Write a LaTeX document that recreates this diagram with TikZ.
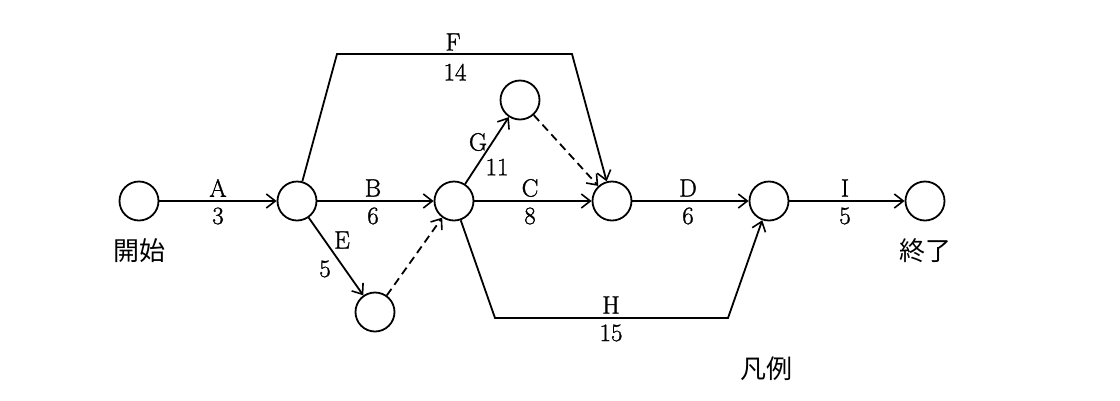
\documentclass[tikz,border=0pt]{standalone}
\usepackage{fontspec}
\newfontfamily\jp{Noto Sans CJK JP}
\newfontfamily\lblfont{Latin Modern Roman}[FakeBold=1.2]
\usetikzlibrary{arrows.meta}
\begin{document}
\begin{tikzpicture}[x=1pt,y=-1pt,
  ev/.style={circle,draw,line width=1.8pt,minimum size=39pt,inner sep=0pt},
  act/.style={line width=1.8pt,-{Straight Barb[length=9pt,width=14pt,line width=1.6pt]}},
  dum/.style={act,dash pattern=on 8pt off 5pt},
  lbl/.style={font=\lblfont\fontsize{25}{28}\selectfont,inner sep=0pt},
  jlbl/.style={font=\jp\fontsize{26}{28}\selectfont,inner sep=0pt}]
\useasboundingbox[fill=white] (0,0) rectangle (1120,400);
% events
\node[ev] (s)  at (139,201) {};
\node[ev] (n1) at (297,201) {};
\node[ev] (n2) at (375,312) {};
\node[ev] (n3) at (454,201) {};
\node[ev] (n4) at (520,100) {};
\node[ev] (n5) at (612,201) {};
\node[ev] (n6) at (769,201) {};
\node[ev] (e)  at (925,201) {};
% corner points
\coordinate (fL) at (337,54);
\coordinate (fR) at (572,54);
\coordinate (hL) at (495,318);
\coordinate (hR) at (728,318);
% activities
\draw[act] (s) -- (n1);
\draw[act] (n1) -- (n3);
\draw[act] (n1) -- (n2);
\draw[dum] (n2) -- (n3);
\draw[act] (n3) -- (n4);
\draw[dum] (n4) -- (n5);
\draw[act] (n3) -- (n5);
\draw[act] (n5) -- (n6);
\draw[act] (n6) -- (e);
\draw[act] (n1) -- (fL) -- (fR) -- (n5);
\draw[act] (n3) -- (hL) -- (hR) -- (n6);
% labels
\node[lbl] (lA) at (218,188) {A};
\node[lbl] (dA) at (218,216) {3};
\node[lbl] (lB) at (373,188) {B};
\node[lbl] (dB) at (373,216) {6};
\node[lbl] (lC) at (530,188) {C};
\node[lbl] (dC) at (530,216) {8};
\node[lbl] (lD) at (688,188) {D};
\node[lbl] (dD) at (688,216) {6};
\node[lbl] (lI) at (845,188) {I};
\node[lbl] (dI) at (845,216) {5};
\node[lbl] (lE) at (342,240) {E};
\node[lbl] (dE) at (325,269) {5};
\node[lbl] (lG) at (478,142) {G};
\node[lbl] (dG) at (497,167) {11};
\node[lbl] (lF) at (453,42) {F};
\node[lbl] (dF) at (455,72) {14};
\node[lbl] (lH) at (611,305) {H};
\node[lbl] (dH) at (611,333) {15};
\node[jlbl] (ts) at (139,251) {開始};
\node[jlbl] (te) at (925,251) {終了};
\node[jlbl] (leg) at (766,369) {凡例};
\end{tikzpicture}
\end{document}
